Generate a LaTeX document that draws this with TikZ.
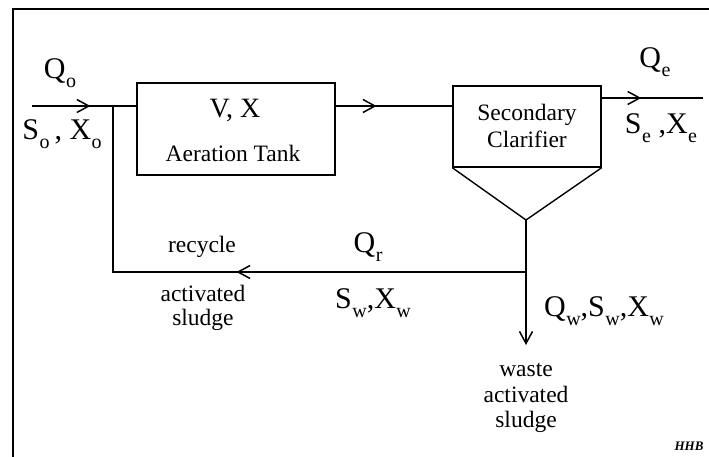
\documentclass[tikz,border=0pt]{standalone}
\usepackage{fontspec}
\setmainfont{Liberation Serif}
\usetikzlibrary{arrows.meta,decorations.markings}
\newcommand\sbx[1]{\kern0.5pt\raisebox{-0.3em}{\fontsize{20}{20}\selectfont #1}}
\begin{document}
\begin{tikzpicture}[x=1pt,y=-1pt,
  flow/.style={line width=1.8pt},
  boxline/.style={draw, line width=1.4pt},
  unit/.style={draw, line width=1.4pt, inner sep=0pt},
  tipstyle/.style={-{Straight Barb[length=12pt,width=13pt,line width=1.5pt]}},
  midarrow/.style={postaction={decorate}, decoration={markings,
     mark=at position #1 with {\arrow{Straight Barb[length=12pt,width=13pt,line width=1.5pt]}}}},
  var/.style={font=\fontsize{30}{30}\selectfont, inner sep=0pt},
  lab/.style={font=\fontsize{23.5}{24}\selectfont, align=center, inner sep=0pt}]
\useasboundingbox (0,0) rectangle (709,457);
% frame
\draw[line width=1.9pt] (13,462) -- (13,9) -- (712,9);
% coordinates
\coordinate (in) at (32,106);
\coordinate (j1) at (113,106);
\coordinate (out) at (703,98);
\coordinate (apex) at (526,220);
\coordinate (j2) at (526,272);
\coordinate (j3) at (113,272);
\coordinate (wend) at (526,345);
% units
\node[unit, minimum width=198pt, minimum height=92pt] (tank) at (236,129) {};
\node[lab, font=\fontsize{28}{28}\selectfont] (vx) at (235,110) {V, X};
\node[lab] (atank) at (233,153) {Aeration Tank};
\node[unit, minimum width=148pt, minimum height=81pt] (clar) at (527,126.5) {};
\node[lab, font=\fontsize{23.5}{27}\selectfont] (sec) at (527,126) {Secondary\\Clarifier};
\draw[boxline] (clar.south west) -- (apex) -- (clar.south east);
% flows
\draw[flow, midarrow=0.56] (in) -- (tank.west |- in);
\draw[flow, midarrow=0.35] (tank.east |- j1) -- (clar.west |- j1);
\draw[flow, midarrow=0.39] (clar.east |- out) -- (out);
\draw[flow] (apex) -- (j2);
\draw[flow, tipstyle] (j2) -- (wend);
\draw[flow, midarrow=0.50, line join=miter] (j2) -- (j3) -- (j1);
% labels
\node[var] (qo) at (60,73) {Q\sbx{o}};
\node[var] (sxo) at (62,134) {S\sbx{o}\,, X\sbx{o}};
\node[var] (qe) at (655,62) {Q\sbx{e}};
\node[var] (sxe) at (661,128) {S\sbx{e} ,X\sbx{e}};
\node[var] (qr) at (368,247) {Q\sbx{r}};
\node[var] (sxw) at (373,303) {S\sbx{w},X\sbx{w}};
\node[var] (qsxw) at (604,311) {Q\sbx{w},S\sbx{w},X\sbx{w}};
\node[lab] (rec) at (202,247) {recycle};
\node[lab] (ras) at (203,308) {activated\\sludge};
\node[lab, font=\fontsize{23.5}{25.5}\selectfont] (was) at (526,398) {waste\\activated\\sludge};
\node[font=\bfseries\itshape\fontsize{13}{13}\selectfont, inner sep=0pt] (hhb) at (689,446) {HHB};
\end{tikzpicture}
\end{document}
